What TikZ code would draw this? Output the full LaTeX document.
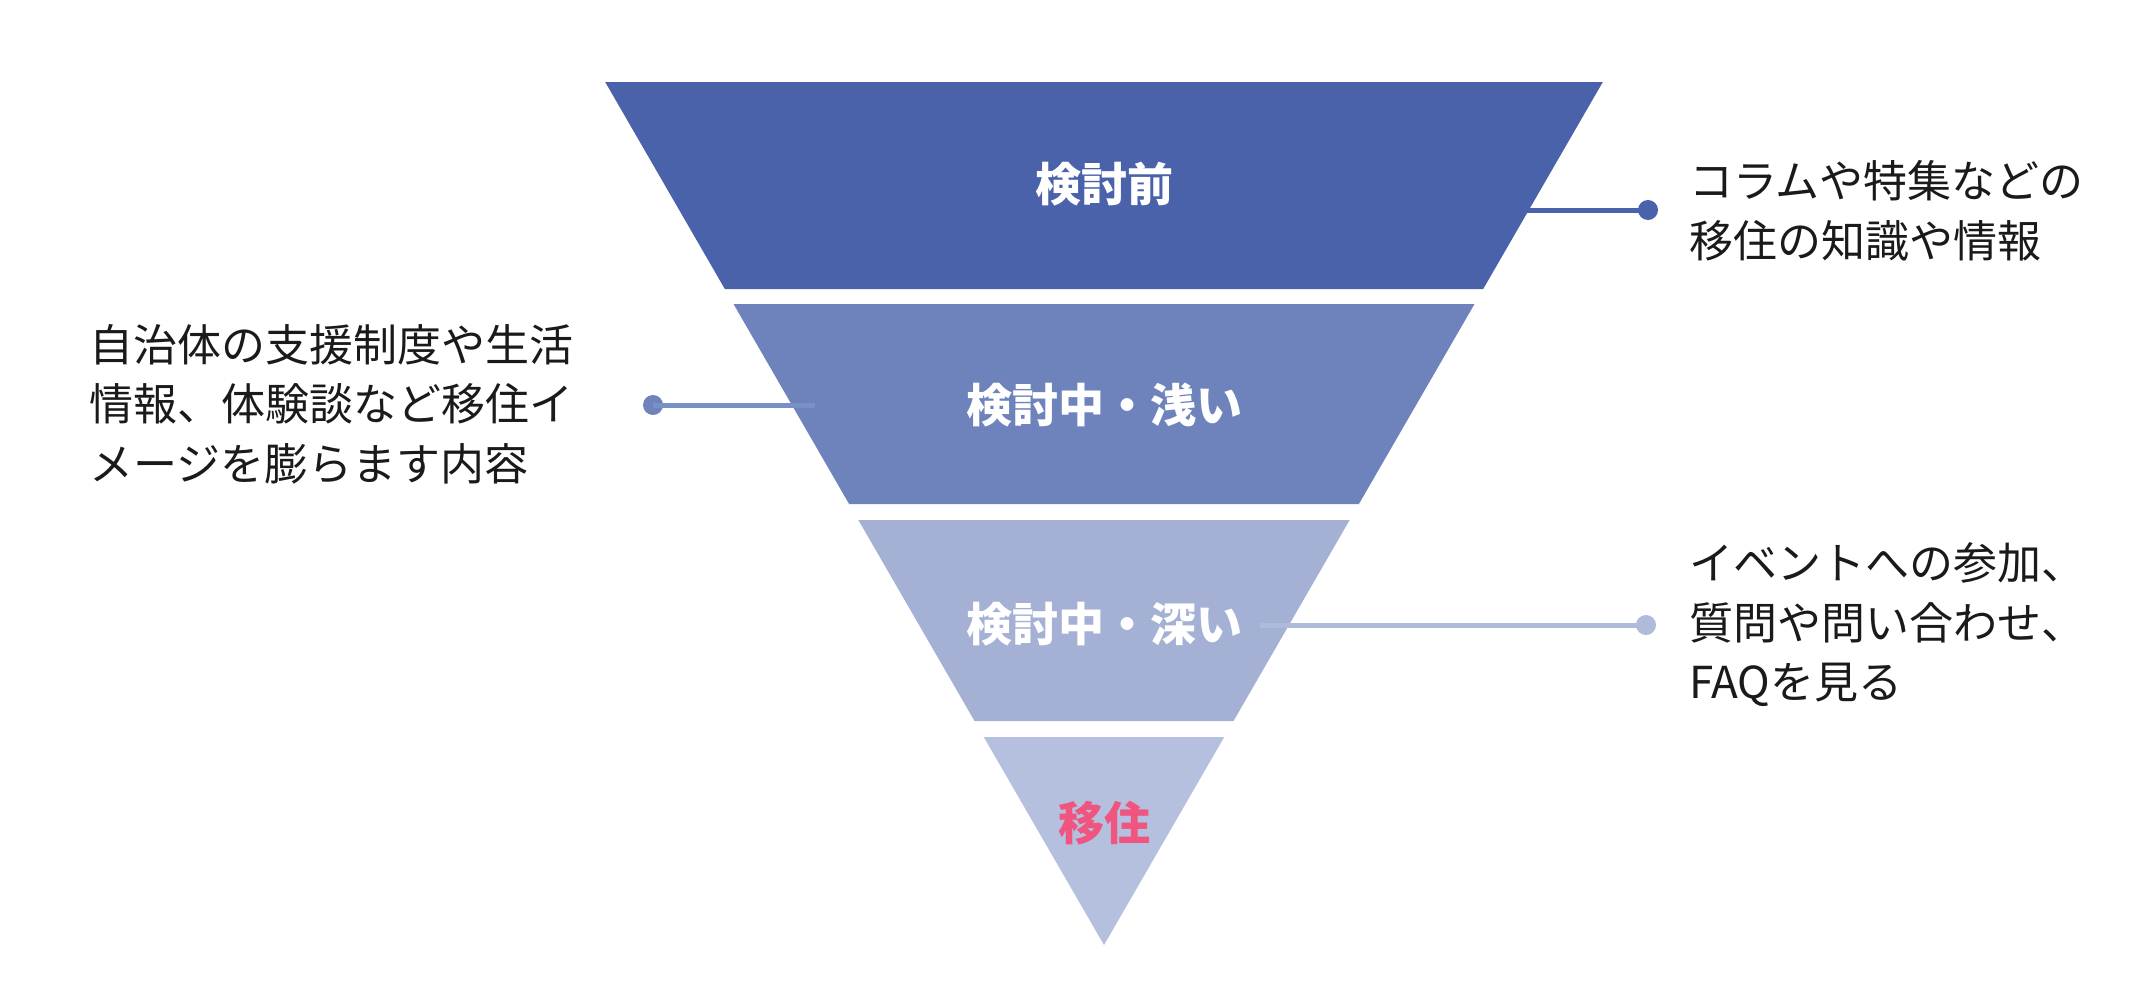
\documentclass[tikz,border=0pt]{standalone}
\usepackage{fontspec}
\newfontfamily\jp{Noto Sans CJK JP}
\usetikzlibrary{calc}
\definecolor{bandA}{HTML}{4A62AA}
\definecolor{bandB}{HTML}{6E83BC}
\definecolor{bandC}{HTML}{A4B1D5}
\definecolor{bandD}{HTML}{B5C0DF}
\definecolor{lineB}{HTML}{7890C6}
\definecolor{lineC}{HTML}{AEBBDB}
\definecolor{pinktxt}{HTML}{EF557E}
\definecolor{txt}{HTML}{1A1A1A}
\begin{document}
\begin{tikzpicture}[x=1pt,y=-1pt,
  label/.style={font=\jp\bfseries\fontsize{46}{50}\selectfont, text=white, inner sep=0pt},
  desc/.style={font=\jp\fontsize{44}{59.5}\selectfont, text=txt, align=left, anchor=west, inner sep=0pt},
  dotnode/.style={circle, inner sep=0pt, minimum size=20pt},
  conn/.style={line width=5pt}
]
\useasboundingbox (0,0) rectangle (2146,998);
\fill[white] (0,0) rectangle (2146,998);
% funnel geometry: center 1104, half width = (945-y)*0.578
\fill[bandA] ({1104-(945-82)*0.578},82) -- ({1104+(945-82)*0.578},82) -- ({1104+(945-289)*0.578},289) -- ({1104-(945-289)*0.578},289) -- cycle;
\fill[bandB] ({1104-(945-304)*0.578},304) -- ({1104+(945-304)*0.578},304) -- ({1104+(945-504)*0.578},504) -- ({1104-(945-504)*0.578},504) -- cycle;
\fill[bandC] ({1104-(945-520)*0.578},520) -- ({1104+(945-520)*0.578},520) -- ({1104+(945-721)*0.578},721) -- ({1104-(945-721)*0.578},721) -- cycle;
\fill[bandD] ({1104-(945-737)*0.578},737) -- ({1104+(945-737)*0.578},737) -- (1104,945) -- cycle;
% labels
\node[label] (l1) at (1104,184) {検討前};
\node[label] (l2) at (1104,405) {検討中・浅い};
\node[label] (l3) at (1104,624) {検討中・深い};
\node[label, text=pinktxt] (l4) at (1104,823) {移住};
% connectors
\coordinate (c1) at (1505,210);
\node[dotnode, fill=bandA] (d1) at (1648,210) {};
\draw[conn, bandA] (c1) -- (d1.center);
\coordinate (c2) at (815,405);
\node[dotnode, fill=bandB] (d2) at (653,405) {};
\draw[conn, lineB] (d2.center) -- (c2);
\coordinate (c3) at (1260,625);
\node[dotnode, fill=lineC] (d3) at (1646,625) {};
\draw[conn, lineC] (c3) -- (d3.center);
% descriptions
\node[desc] (t1) at (1689,211) {コラムや特集などの\\移住の知識や情報};
\node[desc] (t2) at (89,404) {自治体の支援制度や生活\\情報、体験談など移住イ\\メージを膨らます内容};
\node[desc] (t3) at (1689,625) {イベントへの参加、\\質問や問い合わせ、\\FAQを見る};
\end{tikzpicture}
\end{document}
